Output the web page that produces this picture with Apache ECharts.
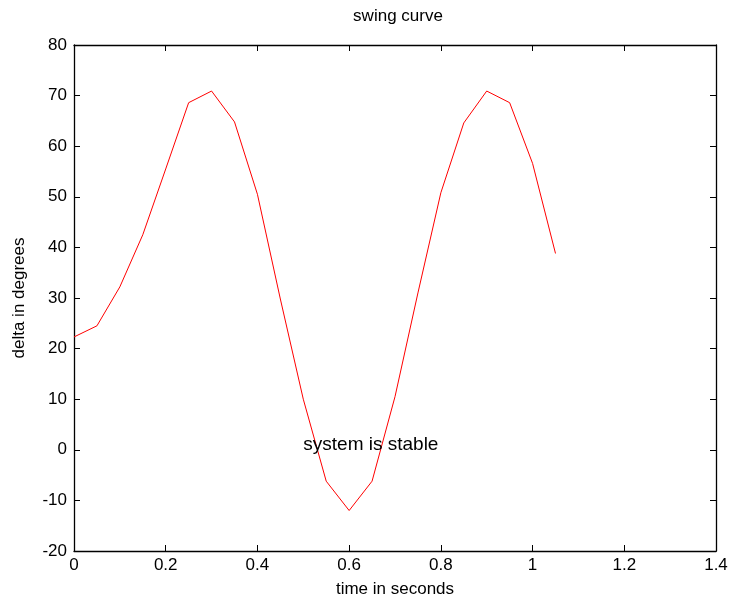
<!DOCTYPE html>
<html>
<head>
<meta charset="utf-8">
<script src="https://cdn.jsdelivr.net/npm/echarts@6/dist/echarts.min.js"></script>
<style>
html,body{margin:0;padding:0;background:#fff;}
#chart{width:732px;height:601px;}
</style>
</head>
<body>
<div id="chart"></div>
<script>
var timeValues = [0, 0.05, 0.1, 0.15, 0.2, 0.25, 0.3, 0.35, 0.4, 0.45, 0.5, 0.55, 0.6, 0.65, 0.7, 0.75, 0.8, 0.85, 0.9, 0.95, 1.0, 1.05];
var deltaValues = [22.3, 24.5, 32.2, 42.5, 55.5, 68.6, 70.9, 64.8, 50.5, 29.8, 10.0, -6.2, -12.0, -6.2, 10.5, 31.0, 50.8, 64.6, 70.9, 68.6, 56.6, 38.8];
var annotationText = 'system is stable';
var annotationPos = [0.5, 0];
var titleText = 'swing curve';
var xName = 'time in seconds';
var yName = 'delta in degrees';

var FONT = 'Liberation Sans, Arial, sans-serif';
var FS = 17;
var lineData = timeValues.map(function (t, i) { return [t, deltaValues[i]]; });

var chart = echarts.init(document.getElementById('chart'), null, {renderer: 'canvas'});
var axisLineStyle = {color: '#000', width: 1.3};
chart.setOption({
  animation: false,
  backgroundColor: '#fff',
  title: {
    text: titleText, left: 393, top: 3, textAlign: 'center',
    textStyle: {fontFamily: FONT, fontSize: FS, fontWeight: 'normal', color: '#000'}
  },
  grid: {left: 74, right: 16, top: 45, bottom: 50, containLabel: false, outerBoundsMode: 'none'},
  xAxis: [{
    type: 'value', min: 0, max: 1.4, interval: 0.2, position: 'bottom',
    name: xName, nameLocation: 'middle', nameGap: 30,
    nameTextStyle: {fontFamily: FONT, fontSize: FS, color: '#000'},
    axisLine: {show: true, onZero: false, lineStyle: axisLineStyle},
    axisTick: {show: true, inside: true, length: 6, lineStyle: {color: '#000'}},
    axisLabel: {fontFamily: FONT, fontSize: FS, color: '#000', margin: 6},
    splitLine: {show: false}
  }, {
    type: 'value', min: 0, max: 1.4, interval: 0.2, position: 'top',
    axisLine: {show: true, onZero: false, lineStyle: axisLineStyle},
    axisTick: {show: true, inside: true, length: 6, lineStyle: {color: '#000'}},
    axisLabel: {show: false}, splitLine: {show: false}
  }],
  yAxis: [{
    type: 'value', min: -20, max: 80, interval: 10, position: 'left',
    name: yName, nameLocation: 'middle', nameGap: 46, nameRotate: 90,
    nameTextStyle: {fontFamily: FONT, fontSize: FS, color: '#000'},
    axisLine: {show: true, onZero: false, lineStyle: axisLineStyle},
    axisTick: {show: true, inside: true, length: 6, lineStyle: {color: '#000'}},
    axisLabel: {fontFamily: FONT, fontSize: FS, color: '#000', margin: 7},
    splitLine: {show: false}
  }, {
    type: 'value', min: -20, max: 80, interval: 10, position: 'right',
    axisLine: {show: true, onZero: false, lineStyle: axisLineStyle},
    axisTick: {show: true, inside: true, length: 6, lineStyle: {color: '#000'}},
    axisLabel: {show: false}, splitLine: {show: false}
  }],
  series: [{
    type: 'line', xAxisIndex: 0, yAxisIndex: 0,
    data: lineData, showSymbol: false, symbol: 'none',
    lineStyle: {color: '#ff0000', width: 1},
    markPoint: {
      symbol: 'circle', symbolSize: 0,
      data: [{coord: annotationPos, value: annotationText}],
      label: {
        show: true, position: 'right', distance: 0, offset: [0, -5],
        formatter: annotationText,
        fontFamily: FONT, fontSize: 19, color: '#000'
      }
    }
  }]
});
</script>
</body>
</html>
